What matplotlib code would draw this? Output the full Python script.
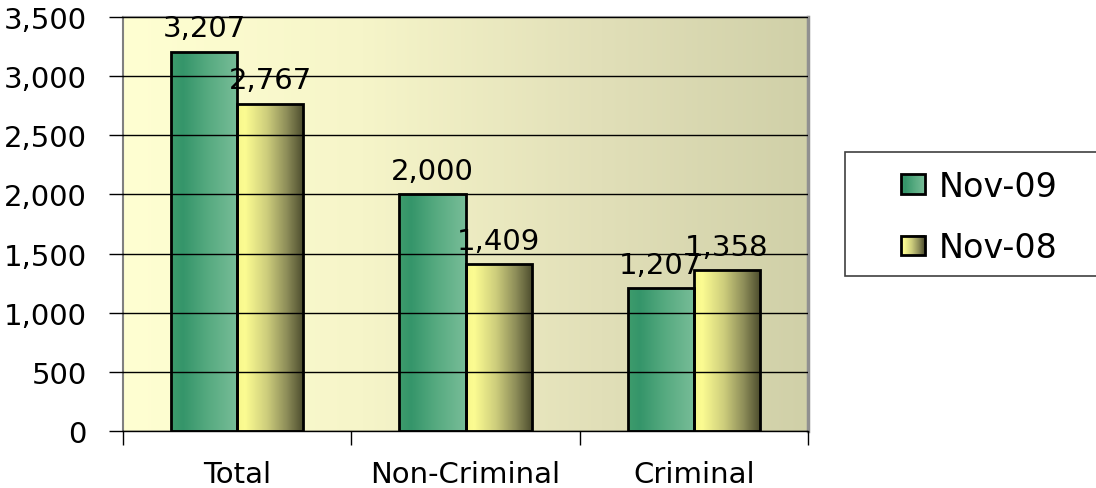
import numpy as np
import matplotlib
matplotlib.use("Agg")
import matplotlib.pyplot as plt
from matplotlib.colors import LinearSegmentedColormap
from matplotlib.patches import Rectangle
from matplotlib.legend_handler import HandlerBase
from matplotlib.image import BboxImage
from matplotlib.transforms import Bbox, TransformedBbox
from matplotlib.ticker import FuncFormatter, FixedLocator

categories = ["Total", "Non-Criminal", "Criminal"]
series_names = ["Nov-09", "Nov-08"]
nov09 = [3207, 2000, 1207]
nov08 = [2767, 1409, 1358]
y_ticks = [0, 500, 1000, 1500, 2000, 2500, 3000, 3500]

plt.rcParams['font.family'] = ['DejaVu Sans']

W, H = 1096, 489
fig = plt.figure(figsize=(W / 100, H / 100), dpi=100)
fig.patch.set_facecolor("white")
ax = fig.add_axes([123 / W, (H - 432) / H, (808 - 123) / W, (432 - 18) / H])

green_cmap = LinearSegmentedColormap.from_list(
    "g", [(0.0, "#3E9C6C"), (0.18, "#35956A"), (0.55, "#56AA80"), (1.0, "#78BD98")])
yellow_cmap = LinearSegmentedColormap.from_list(
    "y", [(0.0, "#F6F68C"), (0.12, "#FCFC92"), (0.45, "#CDCD7C"), (0.75, "#8C8C58"), (1.0, "#4A4A2C")])
bg_cmap = LinearSegmentedColormap.from_list(
    "bg", [(0.0, "#FFFFD2"), (0.35, "#F6F5C9"), (0.7, "#E1DFB8"), (1.0, "#D0D0A8")])

grad = np.linspace(0, 1, 256).reshape(1, -1)

x = np.arange(len(categories))
bw = 0.29
ax.set_xlim(-0.5, len(categories) - 0.5)
ax.set_ylim(0, 3500)

# background gradient
ax.imshow(grad, cmap=bg_cmap, aspect="auto", extent=[-0.5, len(categories) - 0.5, 0, 3500],
          zorder=0, interpolation="bicubic")

for vals, off, cmap in [(nov09, -bw / 2, green_cmap), (nov08, bw / 2, yellow_cmap)]:
    bars = ax.bar(x + off, vals, width=bw, facecolor="none", edgecolor="black",
                  linewidth=2, zorder=3)
    for b, v in zip(bars, vals):
        x0 = b.get_x()
        im = ax.imshow(grad, cmap=cmap, aspect="auto",
                       extent=[x0, x0 + b.get_width(), 0, v], zorder=2,
                       interpolation="bicubic")
        im.set_clip_path(b)
        ax.text(x0 + b.get_width() / 2, v + 80, f"{v:,}", ha="center", va="bottom",
                fontsize=21, color="black", zorder=5)

ax.set_xlim(-0.5, len(categories) - 0.5)
ax.set_ylim(0, 3500)

ax.set_yticks(y_ticks)
ax.yaxis.set_major_formatter(FuncFormatter(lambda v, p: f"{int(v):,}"))
ax.tick_params(axis="y", labelsize=21, length=10, width=1, direction="out", pad=16, colors="black")
ax.yaxis.grid(True, color="black", linewidth=1)
ax.set_axisbelow(False)
for gl in ax.get_ygridlines():
    gl.set_zorder(1)

ax.xaxis.set_major_locator(FixedLocator(x))
ax.xaxis.set_major_formatter(FuncFormatter(lambda v, p: categories[int(round(v))]))
ax.xaxis.set_minor_locator(FixedLocator([-0.5, 0.5, 1.5, 2.5]))
ax.tick_params(axis="x", which="major", length=0, labelsize=21, pad=21)
ax.tick_params(axis="x", which="minor", length=10, width=1, direction="out")

ax.spines["left"].set_color("#808080")
ax.spines["left"].set_linewidth(1.5)
ax.spines["top"].set_color("#909090")
ax.spines["top"].set_linewidth(1.5)
ax.spines["right"].set_color("#909090")
ax.spines["right"].set_linewidth(2.5)
ax.spines["bottom"].set_color("black")
ax.spines["bottom"].set_linewidth(1)


class GradHandler(HandlerBase):
    def __init__(self, cmap):
        super().__init__()
        self.cmap = cmap

    def create_artists(self, legend, orig_handle, xdescent, ydescent, width, height, fontsize, trans):
        bb = Bbox.from_bounds(-xdescent, -ydescent, width, height)
        tbb = TransformedBbox(bb, trans)
        img = BboxImage(tbb, cmap=self.cmap, interpolation="bicubic")
        img.set_data(grad)
        rect = Rectangle((-xdescent, -ydescent), width, height, facecolor="none",
                         edgecolor="black", linewidth=2, transform=trans)
        return [img, rect]


h1 = Rectangle((0, 0), 1, 1)
h2 = Rectangle((0, 0), 1, 1)
# legend frame
fig.patches.append(Rectangle((845 / W, (H - 277) / H), (1100 - 845) / W, (277 - 153) / H,
                             transform=fig.transFigure, facecolor="white",
                             edgecolor="#404040", linewidth=1.2, zorder=1))
leg = fig.legend([h1, h2], series_names,
                 handler_map={h1: GradHandler(green_cmap), h2: GradHandler(yellow_cmap)},
                 loc="upper left", bbox_to_anchor=(901 / W, 1 - 171 / H),
                 frameon=False, fontsize=24, handlelength=0.72, handleheight=0.54,
                 handletextpad=0.4, labelspacing=0.85, borderpad=0, borderaxespad=0)

fig.savefig("out.png", dpi=100)
